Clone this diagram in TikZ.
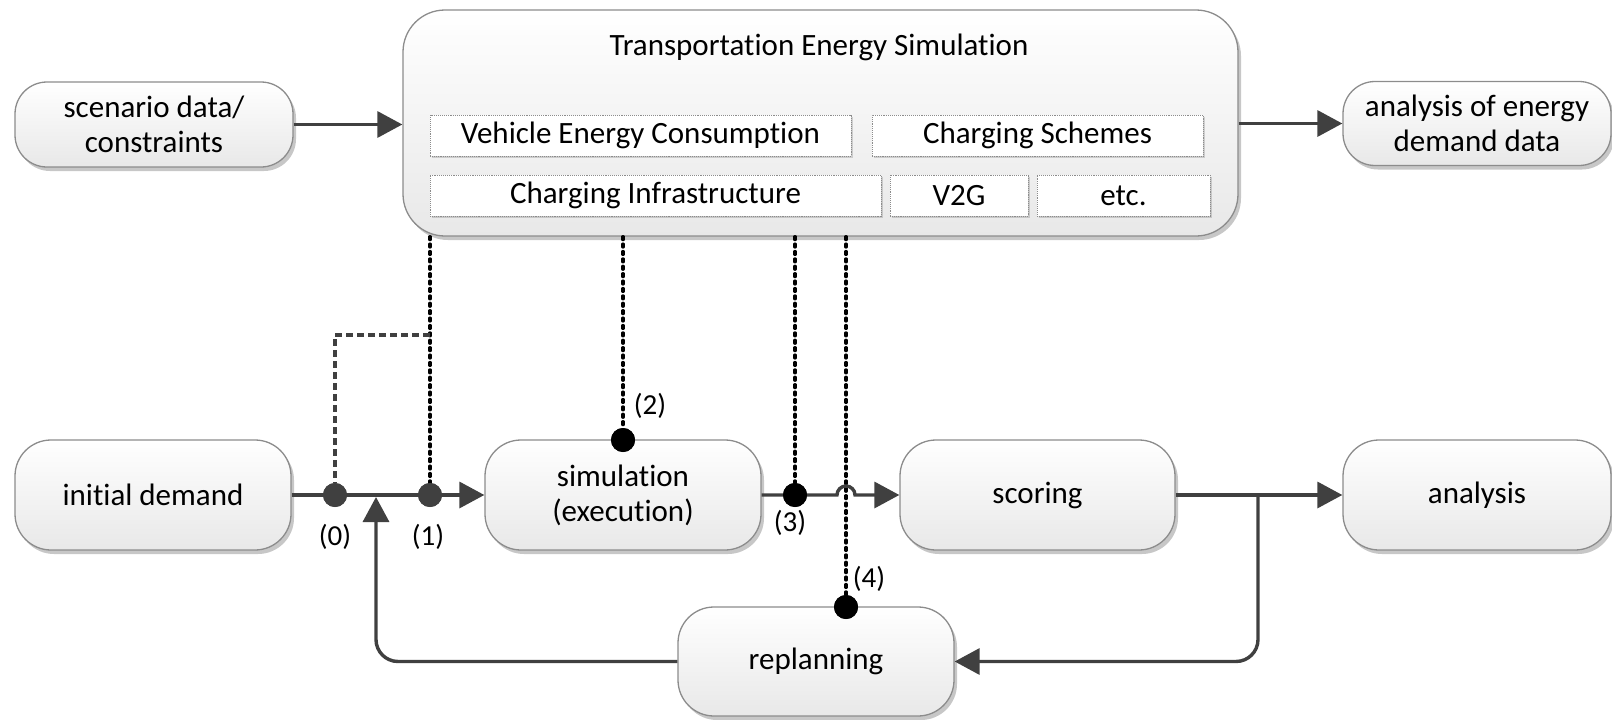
\documentclass[tikz,border=0pt]{standalone}
\usepackage{fontspec}
\setmainfont{Carlito}[Ligatures=CommonOff]
\usetikzlibrary{arrows.meta,shadows,calc}

\definecolor{linegray}{HTML}{404040}
\definecolor{boxborder}{HTML}{8C8C8C}

\tikzset{
  flowbox/.style={draw=boxborder, line width=1.3pt, rounded corners=#1,
    top color=white, bottom color=black!9, align=center, inner sep=0pt,
    drop shadow={shadow xshift=3pt, shadow yshift=-4pt, opacity=0.22, fill=black}},
  flowbox/.default=36pt,
  subbox/.style={draw=black!45, densely dotted, line width=0.9pt, fill=white,
    minimum height=41pt, inner sep=0pt,
    drop shadow={shadow xshift=2pt, shadow yshift=-2pt, opacity=0.15, fill=black}},
  flow/.style={draw=linegray, line width=3.4pt, -{Triangle[length=25pt,width=26pt]}},
  probe/.style={draw=black, line width=3.2pt, line cap=round, dash pattern=on 3pt off 4.4pt},
  probegray/.style={draw=linegray, line width=3.2pt, dash pattern=on 7pt off 4pt},
  dotg/.style={circle, fill=linegray, minimum size=24pt, inner sep=0pt},
  dotk/.style={circle, fill=black, minimum size=24pt, inner sep=0pt},
  tag/.style={inner sep=0pt, font=\fontsize{29}{33}\selectfont},
}

\begin{document}
\begin{tikzpicture}[x=1pt, y=-1pt, font=\fontsize{31}{35}\selectfont]
\useasboundingbox (0,0) rectangle (1612,720);

% upper row
\node[flowbox=32pt, minimum width=278pt, minimum height=85pt] (scen) at (154,124.5)
  {scenario data/\\constraints};
\node[flowbox=42pt, minimum width=835pt, minimum height=226pt] (tes) at (820.5,123) {};
\node (testitle) at (819,47) {Transportation Energy Simulation};
\node[flowbox=32pt, minimum width=268pt, minimum height=84pt] (anaE) at (1477,123.5)
  {analysis of energy\\demand data};

% modules inside the simulation box
\node[subbox, minimum width=421pt] (vec) at (640.5,135.5) {Vehicle Energy Consumption};
\node[subbox, minimum width=331pt] (chs) at (1037.5,135.5) {Charging Schemes};
\node[subbox, minimum width=451pt] (chi) at (655.5,195.5) {Charging Infrastructure};
\node[subbox, minimum width=138pt] (v2g) at (959,195.5) {V2G};
\node[subbox, minimum width=173pt] (etc) at (1123.5,195.5) {etc.};

% lower row
\node[flowbox, minimum width=276pt, minimum height=110pt] (init) at (153,495) {initial demand};
\node[flowbox, minimum width=276pt, minimum height=110pt] (sim) at (623,495) {simulation\\(execution)};
\node[flowbox, minimum width=275pt, minimum height=110pt] (score) at (1037.5,495) {scoring};
\node[flowbox, minimum width=268pt, minimum height=110pt] (ana) at (1477,495) {analysis};
\node[flowbox, minimum width=276pt, minimum height=109pt] (replan) at (816,661.5) {replanning};

% coupling points
\node[dotg] (d0) at (335,495) {};
\node[dotg] (d1) at (430,495) {};
\node[dotk] (d2) at (623,440) {};
\node[dotk] (d3) at (795,495) {};
\node[dotk] (d4) at (846,607) {};

\coordinate (br) at (430,335);
\coordinate (hopL) at (837,495);
\coordinate (split) at (1258,495);
\coordinate (fbin) at (376,497);

% probes from the energy simulation
\draw[probe] (d1 |- tes.south) -- (d1);
\draw[probegray] (br) -| (d0);
\draw[probe] (d2 |- tes.south) -- (d2);
\draw[probe] (d3 |- tes.south) -- (d3);
\draw[probe] (d4 |- tes.south) -- (d4);

% data flow
\draw[flow] (scen.east) -- (scen.east -| tes.west);
\draw[flow] (tes.east |- anaE.west) -- (anaE.west);
\draw[flow] (init.east) -- (sim.west);
\draw[flow] (sim.east) -- (hopL) arc[start angle=180, end angle=0, radius=9pt] -- (score.west);
\draw[flow] (score.east) -- (ana.west);
\draw[flow, rounded corners=22pt] (split) |- (replan.east);
\draw[flow, rounded corners=22pt] (replan.west) -| (fbin);

% redraw dots above the lines
\node[dotg] at (d0) {};
\node[dotg] at (d1) {};
\node[dotk] at (d2) {};
\node[dotk] at (d3) {};
\node[dotk] at (d4) {};

% labels
\node[tag] (l0) at (335,537) {(0)};
\node[tag] (l1) at (428,537) {(1)};
\node[tag] (l2) at (650,406) {(2)};
\node[tag] (l3) at (790,523) {(3)};
\node[tag] (l4) at (869,579) {(4)};
\end{tikzpicture}
\end{document}
